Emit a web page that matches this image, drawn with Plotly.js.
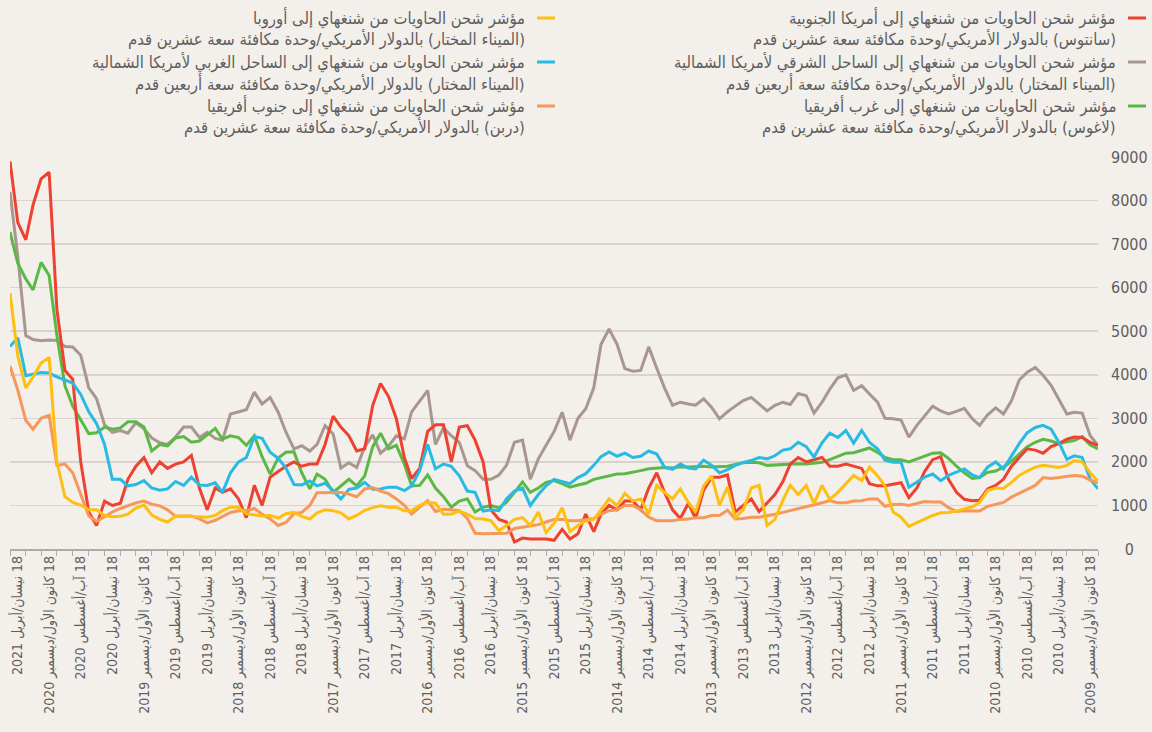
<!DOCTYPE html>
<html>
<head>
<meta charset="utf-8">
<script src="https://cdn.plot.ly/plotly-3.0.1.min.js"></script>
<style>
html,body{margin:0;padding:0;background:#f3efeb;}
#chart{width:1152px;height:732px;}
</style>
</head>
<body>
<div id="chart"></div>
<script>
// monthly sample dates, left (newest) to right (oldest)
const dates = [
"2021-05-18","2021-04-18","2021-03-18","2021-02-18","2021-01-18",
"2020-12-18","2020-11-18","2020-10-18","2020-09-18","2020-08-18","2020-07-18","2020-06-18","2020-05-18","2020-04-18","2020-03-18","2020-02-18","2020-01-18",
"2019-12-18","2019-11-18","2019-10-18","2019-09-18","2019-08-18","2019-07-18","2019-06-18","2019-05-18","2019-04-18","2019-03-18","2019-02-18","2019-01-18",
"2018-12-18","2018-11-18","2018-10-18","2018-09-18","2018-08-18","2018-07-18","2018-06-18","2018-05-18","2018-04-18","2018-03-18","2018-02-18","2018-01-18",
"2017-12-18","2017-11-18","2017-10-18","2017-09-18","2017-08-18","2017-07-18","2017-06-18","2017-05-18","2017-04-18","2017-03-18","2017-02-18","2017-01-18",
"2016-12-18","2016-11-18","2016-10-18","2016-09-18","2016-08-18","2016-07-18","2016-06-18","2016-05-18","2016-04-18","2016-03-18","2016-02-18","2016-01-18",
"2015-12-18","2015-11-18","2015-10-18","2015-09-18","2015-08-18","2015-07-18","2015-06-18","2015-05-18","2015-04-18","2015-03-18","2015-02-18","2015-01-18",
"2014-12-18","2014-11-18","2014-10-18","2014-09-18","2014-08-18","2014-07-18","2014-06-18","2014-05-18","2014-04-18","2014-03-18","2014-02-18","2014-01-18",
"2013-12-18","2013-11-18","2013-10-18","2013-09-18","2013-08-18","2013-07-18","2013-06-18","2013-05-18","2013-04-18","2013-03-18","2013-02-18","2013-01-18",
"2012-12-18","2012-11-18","2012-10-18","2012-09-18","2012-08-18","2012-07-18","2012-06-18","2012-05-18","2012-04-18","2012-03-18","2012-02-18","2012-01-18",
"2011-12-18","2011-11-18","2011-10-18","2011-09-18","2011-08-18","2011-07-18","2011-06-18","2011-05-18","2011-04-18","2011-03-18","2011-02-18","2011-01-18",
"2010-12-18","2010-11-18","2010-10-18","2010-09-18","2010-08-18","2010-07-18","2010-06-18","2010-05-18","2010-04-18","2010-03-18","2010-02-18","2010-01-18",
"2009-12-18","2009-11-18"
];

// South America (Santos)
const southAmerica = [
8900,7500,7100,7900,8500,8650,5500,4100,3900,2000,850,540,1100,1000,1050,1600,1900,2100,1750,2000,1850,1950,2000,2150,1400,900,1400,1300,1380,
1150,720,1460,1000,1650,1780,1900,2000,1900,1950,1950,2400,3050,2800,2600,2250,2300,3300,3800,3500,2990,2100,1620,1850,2700,2850,2850,
2000,2800,2830,2500,2000,900,680,620,160,250,230,230,230,200,450,230,350,800,400,800,1000,900,1100,1100,900,1400,1750,1300,
900,700,1050,700,1350,1650,1650,1700,850,1000,1150,860,1050,1250,1550,1950,2100,2000,2050,2100,1900,1900,1950,1900,1850,1500,1450,1450,
1480,1520,1180,1400,1780,2050,2120,1600,1300,1140,1110,1120,1380,1460,1600,1900,2100,2300,2270,2200,2350,2420,2520,2570,2560,2450,2380
];
// US East Coast
const usEastCoast = [
8200,6720,4900,4810,4780,4800,4790,4650,4640,4450,3700,3450,2850,2680,2720,2660,2900,2760,2550,2440,2400,2570,2800,2800,2560,2680,2540,2500,3100,
3150,3200,3600,3330,3480,3140,2680,2300,2370,2250,2400,2830,2640,1860,1980,1870,2350,2620,2200,2360,2600,2530,3150,3400,3640,2400,2780,
2600,2450,1910,1800,1600,1600,1700,1920,2450,2500,1600,2070,2380,2700,3140,2500,3000,3220,3700,4700,5050,4700,4140,4080,4100,4640,4150,3700,
3300,3370,3330,3300,3450,3250,2990,3150,3280,3410,3480,3330,3170,3300,3370,3320,3570,3520,3120,3370,3670,3930,4000,3640,3750,3560,3370,3000,
2990,2960,2570,2840,3050,3280,3170,3100,3160,3230,2990,2840,3080,3240,3100,3400,3880,4060,4170,3990,3760,3420,3100,3140,3120,2600,2380
];
// West Africa (Lagos)
const westAfrica = [
7280,6560,6200,5950,6580,6280,4900,3750,3280,2950,2650,2670,2800,2750,2780,2920,2920,2800,2250,2400,2370,2550,2580,2450,2480,2620,2770,2520,2600,
2560,2380,2600,2120,1720,2090,2220,2230,1750,1380,1720,1600,1300,1450,1600,1450,1680,2350,2660,2300,2380,1950,1450,1460,1700,1400,1200,
960,1100,1150,850,960,1000,950,1070,1300,1540,1300,1400,1530,1570,1500,1420,1470,1510,1600,1640,1680,1720,1730,1760,1800,1840,1860,1870,
1860,1890,1880,1890,1900,1880,1890,1900,1940,1980,1990,1980,1920,1930,1940,1950,1960,1950,1970,1990,2050,2120,2200,2210,2260,2320,2220,2100,
2050,2050,2000,2070,2140,2200,2210,2080,1900,1750,1620,1640,1760,1790,1880,2010,2180,2350,2450,2520,2480,2420,2460,2490,2580,2390,2300
];
// Europe
const europe = [
5880,4430,3700,3950,4270,4400,2000,1200,1070,1010,900,900,770,740,750,800,940,1010,780,680,620,750,760,750,750,730,770,880,960,
960,810,790,760,770,710,810,840,750,690,830,900,880,830,690,770,890,950,990,960,960,880,880,1000,1070,1050,800,
800,870,800,700,690,650,420,540,680,720,540,850,380,590,950,400,540,650,680,900,1150,1000,1280,1100,1150,800,1460,1300,
1150,1380,1070,850,1450,1680,1000,1420,720,900,1400,1460,540,680,1120,1460,1250,1460,1040,1460,1140,1300,1500,1690,1570,1880,1680,1450,
850,730,520,610,690,770,830,840,870,920,970,1070,1340,1400,1390,1530,1690,1790,1880,1920,1900,1870,1920,2030,2000,1750,1550
];
// US West Coast
const usWestCoast = [
4650,4850,3980,4010,4050,4040,3950,3880,3810,3550,3150,2880,2400,1600,1600,1450,1480,1570,1400,1350,1380,1550,1460,1650,1470,1460,1520,1300,1750,
2000,2100,2580,2540,2220,2080,1860,1480,1470,1560,1450,1510,1340,1150,1370,1400,1530,1370,1380,1420,1420,1340,1450,1800,2400,1840,1950,
1900,1680,1330,1300,870,900,880,1150,1330,1400,1000,1250,1450,1600,1550,1500,1640,1730,1920,2120,2230,2130,2200,2100,2130,2250,2180,1880,
1830,1950,1860,1840,2040,1920,1750,1820,1920,1990,2030,2100,2070,2140,2270,2300,2450,2350,2110,2440,2660,2560,2720,2430,2720,2450,2300,2040,
1990,1990,1420,1530,1650,1720,1570,1690,1760,1840,1700,1640,1880,2000,1840,2140,2420,2670,2790,2840,2750,2450,2060,2140,2100,1600,1380
];
// South Africa (Durban)
const southAfrica = [
4200,3650,2950,2750,3000,3070,1920,1950,1750,1240,760,630,740,850,930,1000,1060,1100,1030,990,900,750,760,760,690,600,660,750,840,
880,880,930,800,690,540,610,810,840,1000,1290,1300,1300,1300,1260,1200,1380,1410,1330,1270,1150,1000,800,960,1110,860,910,
900,880,700,360,350,350,350,360,470,500,520,560,620,680,680,650,650,680,700,800,880,900,1000,1000,900,730,650,650,
650,680,690,720,720,770,770,890,690,700,730,730,760,800,840,880,920,960,1000,1060,1110,1060,1060,1100,1110,1150,1150,980,
1020,1030,1000,1050,1090,1080,1080,950,860,880,880,870,980,1020,1070,1190,1280,1360,1460,1640,1620,1640,1660,1690,1670,1580,1520
];

// x tick labels
const tickDates = [
"2021-04-18","2020-12-18","2020-08-18","2020-04-18","2019-12-18","2019-08-18","2019-04-18",
"2018-12-18","2018-08-18","2018-04-18","2017-12-18","2017-08-18","2017-04-18",
"2016-12-18","2016-08-18","2016-04-18","2015-12-18","2015-08-18","2015-04-18",
"2014-12-18","2014-08-18","2014-04-18","2013-12-18","2013-08-18","2013-04-18",
"2012-12-18","2012-08-18","2012-04-18","2011-12-18","2011-08-18","2011-04-18",
"2010-12-18","2010-08-18","2010-04-18","2009-12-18"
];
const monthNames = {"04":"نيسان/أبريل","08":"آب/أغسطس","12":"كانون الأول/ديسمبر"};
const tickLabels = tickDates.map(d => "\u202B18 " + monthNames[d.slice(5,7)] + " " + d.slice(0,4) + "\u202C");

const yTicks = [0,1000,2000,3000,4000,5000,6000,7000,8000,9000];
const yLabels = ["\u2007\u20080","1000","2000","3000","4000","5000","6000","7000","8000","9000"];

const series = [
  {name:"US East", y:usEastCoast, color:"#a8968f"},
  {name:"West Africa", y:westAfrica, color:"#5ab946"},
  {name:"South America", y:southAmerica, color:"#ee4130"},
  {name:"US West", y:usWestCoast, color:"#27bbe4"},
  {name:"South Africa", y:southAfrica, color:"#f7975a"},
  {name:"Europe", y:europe, color:"#fdc010"}
];

const legendRight = [
  {color:"#ee4130", l1:"مؤشر شحن الحاويات من شنغهاي إلى أمريكا الجنوبية", l2:"(سانتوس) بالدولار الأمريكي/وحدة مكافئة سعة عشرين قدم"},
  {color:"#a8968f", l1:"مؤشر شحن الحاويات من شنغهاي إلى الساحل الشرقي لأمريكا الشمالية", l2:"(الميناء المختار) بالدولار الأمريكي/وحدة مكافئة سعة أربعين قدم"},
  {color:"#5ab946", l1:"مؤشر شحن الحاويات من شنغهاي إلى غرب أفريقيا", l2:"(لاغوس) بالدولار الأمريكي/وحدة مكافئة سعة عشرين قدم"}
];
const legendLeft = [
  {color:"#fdc010", l1:"مؤشر شحن الحاويات من شنغهاي إلى أوروبا", l2:"(الميناء المختار) بالدولار الأمريكي/وحدة مكافئة سعة عشرين قدم"},
  {color:"#27bbe4", l1:"مؤشر شحن الحاويات من شنغهاي إلى الساحل الغربي لأمريكا الشمالية", l2:"(الميناء المختار) بالدولار الأمريكي/وحدة مكافئة سعة أربعين قدم"},
  {color:"#f7975a", l1:"مؤشر شحن الحاويات من شنغهاي إلى جنوب أفريقيا", l2:"(دربن) بالدولار الأمريكي/وحدة مكافئة سعة عشرين قدم"}
];

const traces = series.map(s => ({
  type:"scatter", mode:"lines", x:dates, y:s.y, name:s.name,
  line:{color:s.color, width:3}, hoverinfo:"x+y"
}));

// layout helpers (pixel -> paper)
const L = 10, R = 54, T = 157, B = 183, W = 1152, H = 732;
const pw = W - L - R, ph = H - T - B;
const px = p => (p - L) / pw;
const py = p => (H - B - p) / ph;

const annotations = [];
const shapes = [];
const arFont = {family:"DejaVu Sans Condensed, DejaVu Sans, sans-serif", size:16.5, color:"#5e5e5e"};
function addLegend(items, textRight, symL, symR){
  items.forEach((it, i) => {
    const y1 = 18 + i*44, y2 = y1 + 22;
    annotations.push({xref:"paper", yref:"paper", x:px(textRight), y:py(y1), xanchor:"right", yanchor:"middle",
      text:"\u202B"+it.l1+"\u202C", showarrow:false, font:arFont, align:"right"});
    annotations.push({xref:"paper", yref:"paper", x:px(textRight), y:py(y2), xanchor:"right", yanchor:"middle",
      text:"\u202B"+it.l2+"\u202C", showarrow:false, font:arFont, align:"right"});
    shapes.push({type:"line", xref:"paper", yref:"paper", x0:px(symL), x1:px(symR), y0:py(y1), y1:py(y1),
      line:{color:it.color, width:3}});
  });
}
addLegend(legendRight, 1118, 1128, 1146);
addLegend(legendLeft, 527, 537, 555);

const layout = {
  width:W, height:H,
  paper_bgcolor:"#f3efeb", plot_bgcolor:"#f3efeb",
  margin:{l:L, r:R, t:T, b:B, pad:0},
  showlegend:false,
  xaxis:{
    type:"date", range:["2021-05-18","2009-11-18"],
    tickmode:"array", tickvals:tickDates, ticktext:tickLabels, tickangle:-90,
    ticks:"", showgrid:false, zeroline:false,
    showline:true, linecolor:"#b5a9a3", linewidth:1.5,
    tickfont:{family:"DejaVu Sans Condensed, DejaVu Sans, sans-serif", size:14, color:"#5e5e5e"},
    minor:{tick0:"2009-11-18", dtick:"M2", ticks:"outside", ticklen:5, tickcolor:"#b5a9a3", tickwidth:1, showgrid:false}
  },
  yaxis:{
    side:"right", range:[0,9000], tickmode:"array", tickvals:yTicks, ticktext:yLabels,
    showgrid:true, gridcolor:"#d9d2ce", gridwidth:1.5, zeroline:false, ticks:"",
    ticklabelstandoff:12,
    tickfont:{family:"Liberation Sans Narrow, DejaVu Sans Condensed, sans-serif", size:16, color:"#5e5e5e"}
  },
  annotations:annotations,
  shapes:shapes
};

Plotly.newPlot("chart", traces, layout, {displayModeBar:false, staticPlot:true});
</script>
</body>
</html>
